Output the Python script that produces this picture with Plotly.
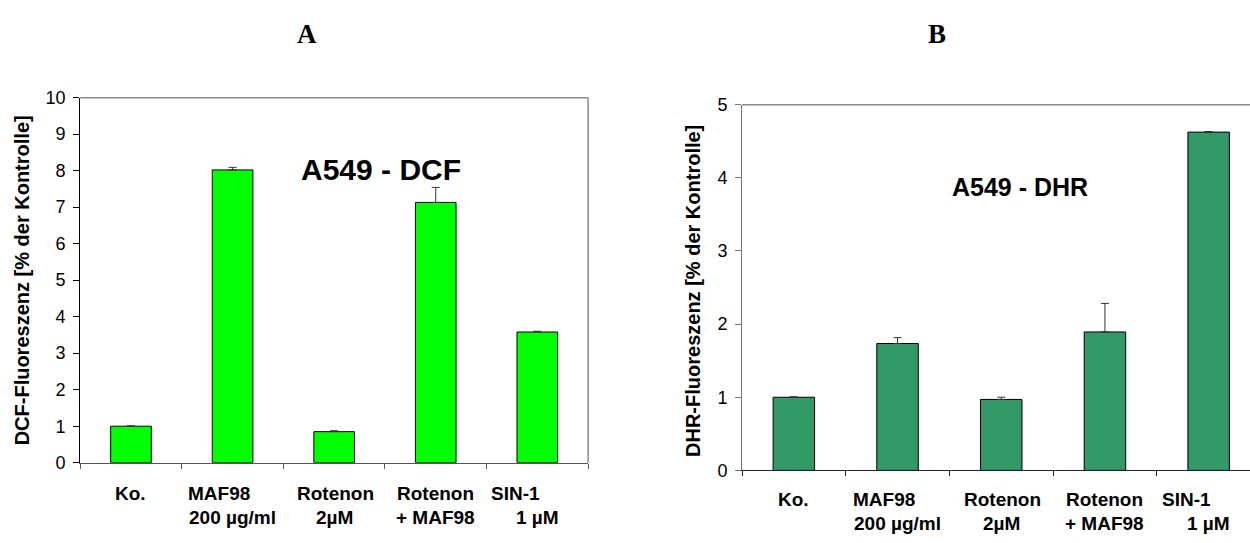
import plotly.graph_objects as go

# ---- data ----
label_line1 = ["Ko.", "MAF98", "Rotenon", "Rotenon", "SIN-1"]
label_line2 = ["", "200 µg/ml", "2µM", "+ MAF98", "1 µM"]
dcf_values = [1.0, 8.02, 0.85, 7.13, 3.58]
dcf_err = [0.01, 0.07, 0.025, 0.41, 0.02]
dhr_values = [1.0, 1.735, 0.97, 1.893, 4.625]
dhr_err = [0.005, 0.08, 0.03, 0.39, 0.008]
dcf_ticks = list(range(0, 11))
dhr_ticks = list(range(0, 6))
panel_titles = ["A", "B"]
chart_titles = ["A549 - DCF", "A549 - DHR"]
y_titles = ["DCF-Fluoreszenz [% der Kontrolle]", "DHR-Fluoreszenz [% der Kontrolle]"]

W, H = 1250, 543
x_pos = list(range(len(label_line1)))
SANS = "Liberation Sans, Arial, sans-serif"
SERIF = "Liberation Serif, Times New Roman, serif"

fig = go.Figure()

fig.add_trace(go.Bar(
    x=x_pos, y=dcf_values, width=0.4,
    marker=dict(color="#00FF00", line=dict(color="#000000", width=1)),
    error_y=dict(type="data", array=dcf_err, arrayminus=[0] * len(dcf_err),
                 symmetric=False, color="#333333", thickness=1, width=4),
    xaxis="x", yaxis="y", showlegend=False, hoverinfo="y"))

fig.add_trace(go.Bar(
    x=x_pos, y=dhr_values, width=0.4,
    marker=dict(color="#339966", line=dict(color="#000000", width=1)),
    error_y=dict(type="data", array=dhr_err, arrayminus=[0] * len(dhr_err),
                 symmetric=False, color="#333333", thickness=1, width=4),
    xaxis="x2", yaxis="y2", showlegend=False, hoverinfo="y"))

def px_x(p):
    return p / W

def px_y(p):
    return (H - p) / H

common_x = dict(showgrid=False, zeroline=False, showline=True, linewidth=1,
                ticks="outside", ticklen=5, tickwidth=1,
                tickvals=[i - 0.5 for i in range(len(x_pos) + 1)],
                showticklabels=False, fixedrange=True)
common_y = dict(showgrid=False, zeroline=False, showline=True, linewidth=1,
                ticks="outside", ticklen=6, tickwidth=1, dtick=1,
                tickfont=dict(family=SANS, size=18, color="#000000"),
                ticklabelstandoff=4, fixedrange=True)

fig.update_layout(
    width=W, height=H, margin=dict(l=0, r=0, t=0, b=0),
    paper_bgcolor="white", plot_bgcolor="white",
    xaxis=dict(**common_x, domain=[px_x(80.2), px_x(588.1)], range=[-0.5, 4.5],
               linecolor="#555555", tickcolor="#555555", anchor="y"),
    yaxis=dict(**common_y, domain=[px_y(470), px_y(91)], range=[0, 10],
               tickvals=dcf_ticks, linecolor="#000000", tickcolor="#000000", anchor="x"),
    xaxis2=dict(**common_x, domain=[px_x(742), 1.0], range=[-0.5, -0.5 + 508 / 103.7],
                linecolor="#222222", tickcolor="#222222", anchor="y2"),
    yaxis2=dict(**common_y, domain=[px_y(478), px_y(98.3)], range=[0, 5],
                tickvals=dhr_ticks, linecolor="#777777", tickcolor="#777777", anchor="x2"),
    bargap=0.6,
)

# gray top / right borders
border = dict(color="#8c8c8c", width=1.5)
fig.add_shape(type="line", xref="x domain", yref="y domain", x0=0, x1=1, y0=1, y1=1, line=border)
fig.add_shape(type="line", xref="x domain", yref="y domain", x0=1, x1=1, y0=0, y1=1, line=border)
fig.add_shape(type="line", xref="x2 domain", yref="y2 domain", x0=0, x1=1, y0=1, y1=1, line=border)

ann = []
# category labels (two lines)
line1_shift = [0, -14, 1, 0, -22]
for axis_idx, (xr, y1, y2) in enumerate([("x", 501.6, 526.5), ("x2", 508.5, 533.3)]):
    for i in x_pos:
        ann.append(dict(x=i, y=px_y(y1), xref=xr, yref="paper", text=label_line1[i],
                        xshift=line1_shift[i], showarrow=False, xanchor="center", yanchor="middle",
                        font=dict(family=SANS, size=19, color="#000000", weight="bold")))
        if label_line2[i]:
            ann.append(dict(x=i, y=px_y(y2), xref=xr, yref="paper", text=label_line2[i],
                            showarrow=False, xanchor="center", yanchor="middle",
                            font=dict(family=SANS, size=19, color="#000000", weight="bold")))

# chart titles inside plots
ann.append(dict(x=2.46, y=8.02, xref="x", yref="y", text=chart_titles[0], showarrow=False,
                xanchor="center", yanchor="middle",
                font=dict(family=SANS, size=30, color="#000000", weight="bold")))
ann.append(dict(x=2.18, y=3.88, xref="x2", yref="y2", text=chart_titles[1], showarrow=False,
                xanchor="center", yanchor="middle",
                font=dict(family=SANS, size=25, color="#000000", weight="bold")))

# y-axis titles
ann.append(dict(x=px_x(21.7), y=px_y(281), xref="paper", yref="paper", text=y_titles[0],
                textangle=-90, showarrow=False, xanchor="center", yanchor="middle",
                font=dict(family=SANS, size=20, color="#000000", weight="bold")))
ann.append(dict(x=px_x(693.2), y=px_y(291.5), xref="paper", yref="paper", text=y_titles[1],
                textangle=-90, showarrow=False, xanchor="center", yanchor="middle",
                font=dict(family=SANS, size=20, color="#000000", weight="bold")))

# panel letters
ann.append(dict(x=px_x(307), y=px_y(25), xref="paper", yref="paper", text=panel_titles[0],
                showarrow=False, xanchor="center", yanchor="middle",
                font=dict(family=SERIF, size=27, color="#000000", weight="bold")))
ann.append(dict(x=px_x(937), y=px_y(25), xref="paper", yref="paper", text=panel_titles[1],
                showarrow=False, xanchor="center", yanchor="middle",
                font=dict(family=SERIF, size=27, color="#000000", weight="bold")))

fig.update_layout(annotations=ann)
fig.write_html("out.html")
